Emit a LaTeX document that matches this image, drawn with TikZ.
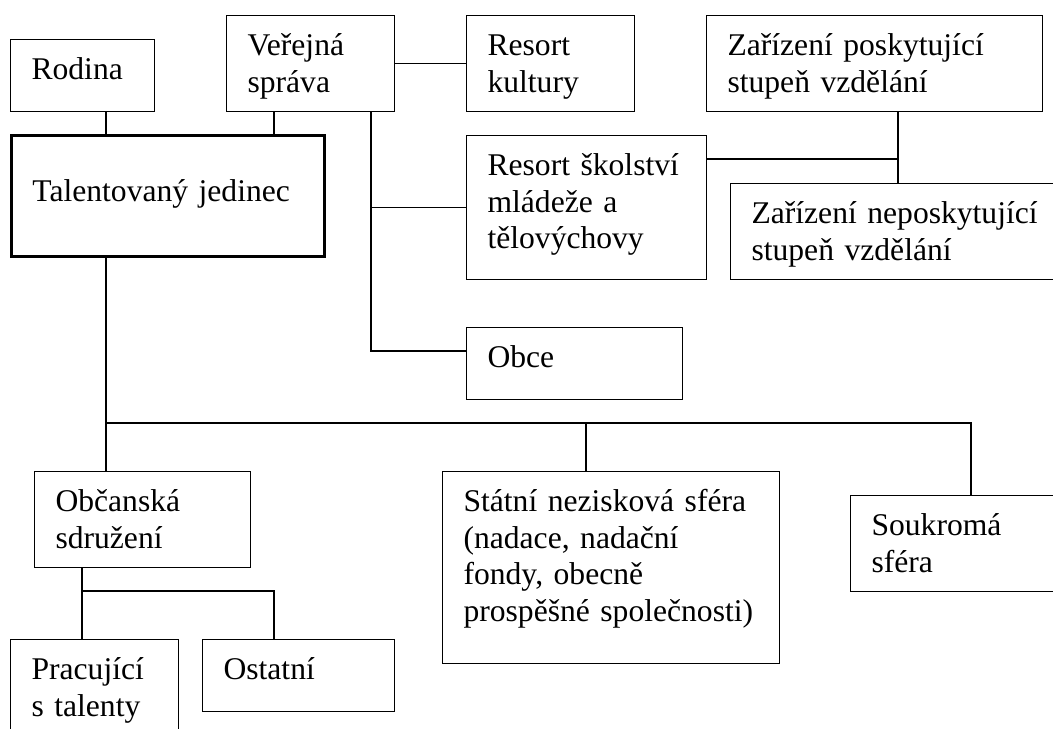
\documentclass[tikz,border=0pt]{standalone}
\usepackage{fontspec}
\setmainfont{Liberation Serif}
\usepackage{tikz}
\tikzset{
  orgbox/.style={draw,line width=0.55pt,anchor=north west,inner xsep=10.5pt,inner ysep=0pt,
    align=left,font=\fontsize{15.8}{18.3}\selectfont,text height=20pt},
  keybox/.style={orgbox,line width=1.4pt},
  orgline/.style={line width=0.55pt}
}

\begin{document}
\begin{tikzpicture}[x=0.5pt,y=-0.5pt]
  \useasboundingbox (0,0) rectangle (1053,728);
  \clip (0,0) rectangle (1053,728);
  \node[orgbox,text width=51pt,text depth=16pt] (rodina) at (10,39) {Rodina};
  \node[orgbox,text width=63pt,text depth=28pt] (verejna) at (226,15) {Veřejná\\správa};
  \node[orgbox,text width=63pt,text depth=28pt] (kultura) at (466,15) {Resort\\kultury};
  \node[orgbox,text width=147pt,text depth=28pt] (poskyt) at (706,15) {Zařízení poskytující\\stupeň vzdělání};
  \node[keybox,text width=135.5pt,text height=33pt,text depth=27.5pt] (talent) at (10,134) {Talentovaný jedinec};
  \node[orgbox,text width=99pt,text depth=52pt] (skolstvi) at (466,135) {Resort školství\\mládeže a\\tělovýchovy};
  \node[orgbox,text width=149pt,text depth=28pt] (neposkyt) at (730,183) {Zařízení neposkytující\\stupeň vzdělání};
  \node[orgbox,text width=87pt,text depth=16pt] (obce) at (466,327) {Obce};
  \node[orgbox,text width=87pt,text depth=28pt] (obcanska) at (34,471) {Občanská\\sdružení};
  \node[orgbox,text width=147.5pt,text depth=76pt] (statni) at (442,471) {Státní nezisková sféra\\(nadace, nadační\\fondy, obecně\\prospěšné společnosti)};
  \node[orgbox,text width=89pt,text depth=28pt] (soukroma) at (850,495) {Soukromá\\sféra};
  \node[orgbox,text width=63pt,text depth=30pt] (pracujici) at (10,639) {Pracující\\s talenty};
  \node[orgbox,text width=75pt,text depth=16pt] (ostatni) at (202,639) {Ostatní};

  \coordinate (trunk) at (106,423);
  \coordinate (busend) at (971,423);
  \coordinate (statdrop) at (586,423);
  \coordinate (vlink) at (274,0);
  \coordinate (vspine) at (371,351);
  \coordinate (zspine) at (898,159);
  \coordinate (osbus) at (82,591);
  \coordinate (osend) at (274,591);

  \draw[orgline] (rodina.south -| trunk) -- (talent.north -| trunk);
  \draw[orgline] (verejna.south -| vlink) -- (talent.north -| vlink);
  \draw[orgline] (verejna.east) -- (kultura.west);
  \draw[orgline] (verejna.south -| vspine) -- (vspine) -- (obce.west |- vspine);
  \draw[orgline] (skolstvi.west -| vspine) -- (skolstvi.west);
  \draw[orgline] (skolstvi.east |- zspine) -- (zspine);
  \draw[orgline] (poskyt.south -| zspine) -- (neposkyt.north -| zspine);
  \draw[orgline] (talent.south -| trunk) -- (obcanska.north -| trunk);
  \draw[orgline] (trunk) -- (busend) -- (soukroma.north -| busend);
  \draw[orgline] (statdrop) -- (statni.north -| statdrop);
  \draw[orgline] (obcanska.south -| osbus) -- (osbus) -- (osend) -- (ostatni.north -| osend);
  \draw[orgline] (osbus) -- (pracujici.north -| osbus);
\end{tikzpicture}
\end{document}
